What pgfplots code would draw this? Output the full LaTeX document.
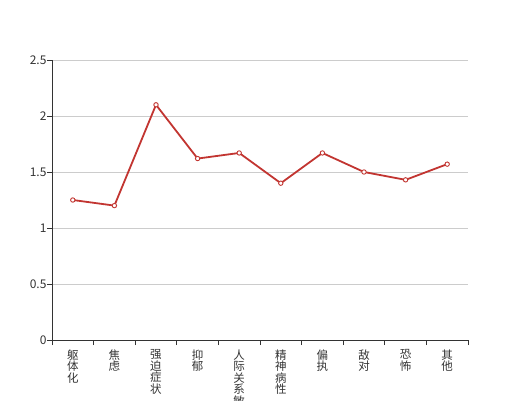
\documentclass[border=0pt]{standalone}
\usepackage{pgfplots}
\pgfplotsset{compat=1.18}
\usepackage{fontspec}
\setmainfont{Noto Sans CJK SC}
\definecolor{axisgray}{HTML}{333333}
\definecolor{gridgray}{HTML}{CCCCCC}
\definecolor{linered}{HTML}{C23531}
\newcommand{\lblfont}{\fontsize{11.5}{11.5}\selectfont\lineskiplimit=-20pt\relax\lineskip=0pt\relax}

\begin{document}
\begin{tikzpicture}
\begin{axis}[
    scale only axis,
    width=416pt, height=280pt,
    xmin=-0.5, xmax=9.5,
    ymin=0, ymax=2.5,
    ytick={0,0.5,...,2.5},
    xtick={0,...,9},
    xticklabels={{躯\\体\\化},{焦\\虑},{强\\迫\\症\\状},{抑\\郁},{人\\际\\关\\系\\敏\\感},{精\\神\\病\\性},{偏\\执},{敌\\对},{恐\\怖},{其\\他}},
    minor xtick={-0.5,0.5,...,9.5},
    axis x line*=bottom,
    axis y line*=left,
    axis line style={axisgray, line width=0.8pt, -},
    tick align=outside,
    major tick length=5pt,
    minor tick length=5pt,
    major x tick style={draw=none},
    minor x tick style={axisgray, line width=0.8pt},
    major y tick style={axisgray, line width=0.8pt},
    ymajorgrids,
    grid style={gridgray, line width=0.8pt},
    tick label style={text=axisgray},
    xticklabel style={font=\lblfont, align=center, anchor=north, yshift=-1pt},
    yticklabel style={font=\fontsize{12}{12}\selectfont, anchor=east, xshift=3pt},
    /pgf/number format/assume math mode=true,
    clip=false,
]
\addplot[linered, line width=1.8pt, mark=*, mark size=2.2pt,
    mark options={fill=white, draw=linered, line width=0.9pt}]
coordinates {
(0,1.25) (1,1.20) (2,2.10) (3,1.62) (4,1.67)
(5,1.40) (6,1.67) (7,1.50) (8,1.43) (9,1.57)
};
\end{axis}
\pgfresetboundingbox
\useasboundingbox (-52pt,-60pt) rectangle (468pt,340pt);
\end{tikzpicture}
\end{document}
